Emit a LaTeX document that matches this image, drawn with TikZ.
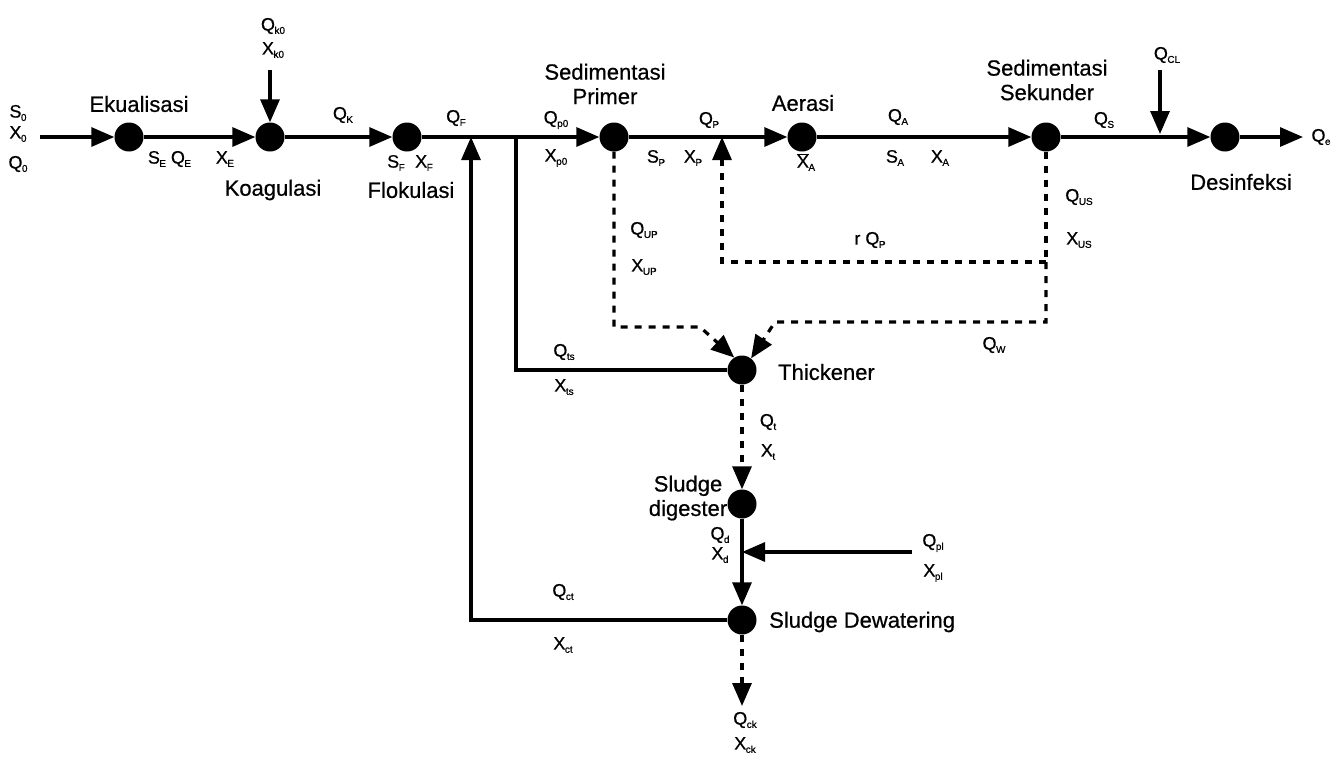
\documentclass[tikz,border=0pt]{standalone}
\usepackage{fontspec}
\setmainfont{Liberation Sans}
\newfontfamily\heavy[FakeBold=0.6]{Liberation Sans}
\usetikzlibrary{arrows.meta}
\newcommand{\vs}[2]{#1\kern-0.5pt\raisebox{-0.35ex}{\fontsize{10}{10}\selectfont #2}}
\begin{document}
\begin{tikzpicture}[x=1pt,y=-1pt,
  flow/.style={line width=3.2pt},
  arr/.style={-{Triangle[length=23pt,width=19pt]}},
  dsh/.style={line width=3.2pt, dash pattern=on 7pt off 7pt},
  unit/.style={circle, fill=black, minimum size=29pt, inner sep=0pt},
  lbl/.style={font=\heavy\fontsize{22}{24.5}\selectfont, inner sep=0pt, align=center},
  var/.style={font=\heavy\fontsize{18}{20}\selectfont, inner sep=0pt}]
\useasboundingbox (0,0) rectangle (1333,761);
% units
\node[unit] (eq) at (129,137) {};
\node[unit] (ko) at (270,137) {};
\node[unit] (fl) at (407,137) {};
\node[unit] (sp) at (614,137) {};
\node[unit] (ae) at (802,137) {};
\node[unit] (ss) at (1046,137) {};
\node[unit] (de) at (1225,137) {};
\node[unit] (th) at (742,370) {};
\node[unit] (sd) at (742,504) {};
\node[unit] (dw) at (742,620) {};
% free ends
\coordinate (in) at (40,137);
\coordinate (kin) at (270,70);
\coordinate (out) at (1303,137);
\coordinate (clin) at (1160,70);
\coordinate (clend) at (1160,134);
\coordinate (ff) at (471,137);
\coordinate (fc) at (471,620);
\coordinate (tsj) at (516,137);
\coordinate (tsc) at (516,370);
\coordinate (rj) at (722,137);
\coordinate (rc1) at (722,262);
\coordinate (rc2) at (1046,262);
\coordinate (wc1) at (1046,322);
\coordinate (wc2) at (775,322);
\coordinate (uc1) at (614,327);
\coordinate (uc2) at (700,327);
\coordinate (plin) at (912,552);
\coordinate (plj) at (742,552);
\coordinate (ck) at (742,706);
% main line
\draw[flow,arr] (in) -- (eq);
\draw[flow,arr] (eq) -- (ko);
\draw[flow,arr] (kin) -- (ko);
\draw[flow,arr] (ko) -- (fl);
\draw[flow,arr] (fl) -- (sp);
\draw[flow,arr] (sp) -- (ae);
\draw[flow,arr] (ae) -- (ss);
\draw[flow,arr] (ss) -- (de);
\draw[flow,arr] (de) -- (out);
\draw[flow,arr] (clin) -- (clend);
% sludge lines
\draw[flow] (tsj) -- (tsc) -- (th);
\draw[flow,arr] (dw) -- (fc) -- (ff);
\draw[dsh] (ss) -- (rc2);
\draw[dsh,arr] (rc2) -- (rc1) -- (rj);
\draw[dsh,arr] (rc2) -- (wc1) -- (wc2) -- (th.52);
\draw[dsh,arr] (sp) -- (uc1) -- (uc2) -- (th.122);
\draw[dsh,arr] (th) -- (sd);
\draw[flow,arr] (sd) -- (dw);
\draw[flow,arr] (plin) -- (plj);
\draw[dsh,arr] (dw) -- (ck);
% unit labels
\node[lbl] (leq) at (139,104) {Ekualisasi};
\node[lbl] (lko) at (273,190) {Koagulasi};
\node[lbl] (lfl) at (411,190) {Flokulasi};
\node[lbl] (lsp) at (605,84) {Sedimentasi\\Primer};
\node[lbl] (lae) at (803,103) {Aerasi};
\node[lbl] (lss) at (1047,80) {Sedimentasi\\Sekunder};
\node[lbl] (lde) at (1241,182) {Desinfeksi};
\node[lbl,anchor=west] (lth) at (778,372) {Thickener};
\node[lbl] (lsd) at (688,498) {Sludge\\digester};
\node[lbl,anchor=west] (ldw) at (769,622) {Sludge Dewatering};
% variable labels
\node[var] at (18,113) {\vs{S}{0}};
\node[var] at (18,134) {\vs{X}{0}};
\node[var] at (18,164) {\vs{Q}{0}};
\node[var] at (273,26) {\vs{Q}{k0}};
\node[var] at (273,50) {\vs{X}{k0}};
\node[var] at (157,159) {\vs{S}{E}};
\node[var] at (181,159) {\vs{Q}{E}};
\node[var] at (225,159) {\vs{X}{E}};
\node[var] at (343,115) {\vs{Q}{K}};
\node[var] at (396,163) {\vs{S}{F}};
\node[var] at (424,163) {\vs{X}{F}};
\node[var] at (456,118) {\vs{Q}{F}};
\node[var] at (556,120) {\vs{Q}{p0}};
\node[var] at (556,158) {\vs{X}{p0}};
\node[var] at (709,120) {\vs{Q}{P}};
\node[var] at (656,158) {\vs{S}{P}};
\node[var] at (693,158) {\vs{X}{P}};
\node[var] at (806,162) {\vs{\ensuremath{\overline{\mbox{X}}}}{A}};
\node[var] at (898,117) {\vs{Q}{A}};
\node[var] at (895,158) {\vs{S}{A}};
\node[var] at (940,158) {\vs{X}{A}};
\node[var] at (1104,120) {\vs{Q}{S}};
\node[var] at (1167,55) {\vs{Q}{CL}};
\node[var] at (1321,137) {\vs{Q}{e}};
\node[var] at (1079,197) {\vs{Q}{US}};
\node[var] at (1079,240) {\vs{X}{US}};
\node[var] at (644,230) {\vs{Q}{UP}};
\node[var] at (644,267) {\vs{X}{UP}};
\node[var] at (870,240) {r \vs{Q}{P}};
\node[var] at (994,345) {\vs{Q}{W}};
\node[var] at (564,352) {\vs{Q}{ts}};
\node[var] at (564,387) {\vs{X}{ts}};
\node[var] at (768,422) {\vs{Q}{t}};
\node[var] at (768,452) {\vs{X}{t}};
\node[var] at (720,535) {\vs{Q}{d}};
\node[var] at (720,555) {\vs{X}{d}};
\node[var] at (933,543) {\vs{Q}{pl}};
\node[var] at (933,573) {\vs{X}{pl}};
\node[var] at (563,592) {\vs{Q}{ct}};
\node[var] at (563,645) {\vs{X}{ct}};
\node[var] at (745,720) {\vs{Q}{ck}};
\node[var] at (745,745) {\vs{X}{ck}};
\end{tikzpicture}
\end{document}
